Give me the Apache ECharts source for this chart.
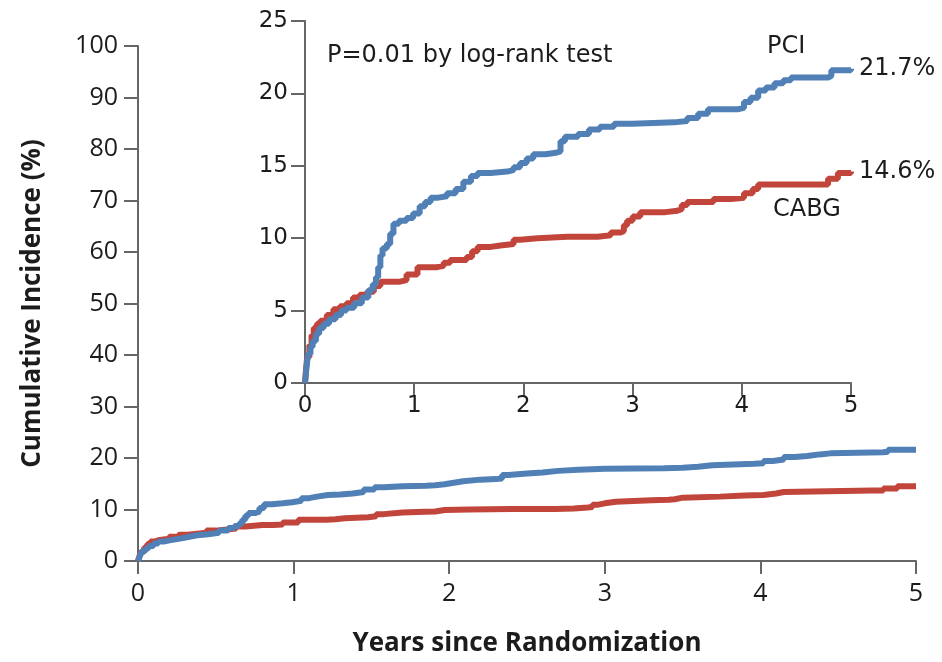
<!DOCTYPE html>
<html>
<head>
<meta charset="utf-8">
<script src="https://cdn.jsdelivr.net/npm/echarts@6/dist/echarts.min.js"></script>
<style>
  html, body { margin: 0; padding: 0; background: #fff; }
  #main { width: 942px; height: 662px; }
</style>
</head>
<body>
<div id="main"></div>
<script>
// years since randomization / cumulative incidence (%)
const pciYears = [0, 0.01, 0.02, 0.03, 0.05, 0.07, 0.1, 0.13, 0.17, 0.22, 0.28, 0.33, 0.38, 0.45, 0.52, 0.58, 0.62, 0.65, 0.67, 0.69, 0.71, 0.75, 0.78, 0.81, 0.86, 0.93, 0.99, 1.05, 1.1, 1.15, 1.22, 1.3, 1.38, 1.45, 1.52, 1.58, 1.7, 1.85, 1.91, 1.97, 2.03, 2.09, 2.2, 2.3, 2.34, 2.38, 2.5, 2.6, 2.7, 2.83, 3.0, 3.38, 3.5, 3.6, 3.69, 3.96, 4.02, 4.08, 4.15, 4.22, 4.3, 4.38, 4.45, 4.79, 4.82, 5.0];
const pciValues = [0, 0.8, 1.5, 2.0, 2.5, 2.9, 3.4, 3.8, 4.1, 4.4, 4.7, 5.0, 5.2, 5.5, 5.9, 6.4, 6.8, 7.3, 8.0, 8.8, 9.3, 9.6, 10.3, 11.0, 11.2, 11.4, 11.7, 12.2, 12.5, 12.8, 12.9, 13.1, 13.4, 13.9, 14.3, 14.5, 14.6, 14.7, 14.9, 15.2, 15.5, 15.8, 15.9, 16.0, 16.7, 17.0, 17.2, 17.5, 17.7, 17.9, 18.0, 18.1, 18.3, 18.6, 18.9, 19.0, 19.4, 19.7, 20.2, 20.4, 20.7, 20.9, 21.1, 21.2, 21.6, 21.7];

const cabgYears = [0, 0.01, 0.02, 0.04, 0.06, 0.08, 0.11, 0.14, 0.2, 0.26, 0.32, 0.38, 0.44, 0.5, 0.57, 0.63, 0.69, 0.8, 0.87, 0.93, 1.03, 1.1, 1.21, 1.27, 1.33, 1.48, 1.53, 1.58, 1.7, 1.79, 1.91, 1.97, 2.13, 2.4, 2.68, 2.8, 2.89, 2.92, 2.95, 3.0, 3.07, 3.3, 3.41, 3.45, 3.5, 3.74, 3.9, 4.02, 4.1, 4.15, 4.72, 4.79, 4.88, 5.0];
const cabgValues = [0, 1.0, 1.8, 2.6, 3.3, 3.8, 4.1, 4.3, 4.7, 5.1, 5.3, 5.5, 5.9, 6.1, 6.3, 6.7, 7.0, 7.0, 7.1, 7.5, 8.0, 8.0, 8.1, 8.3, 8.5, 8.7, 9.1, 9.4, 9.5, 9.6, 9.9, 10.0, 10.1, 10.1, 10.2, 10.4, 10.5, 10.9, 11.2, 11.5, 11.8, 11.9, 12.0, 12.3, 12.5, 12.7, 12.8, 13.1, 13.4, 13.7, 13.7, 14.1, 14.5, 14.6];

const xTicks = [0, 1, 2, 3, 4, 5];
const mainYMax = 100;
const insetYMax = 25;

const BLUE = '#5180b6';
const RED = '#c1453b';
const AXIS = '#666666';
const TEXT = '#1c1c1c';

const pairs = (xs, ys) => xs.map((x, i) => [x, ys[i]]);

const mainFont = '"Open Sans", "Noto Sans", sans-serif';
const insetFont = '"DejaVu Sans", "Noto Sans", sans-serif';

const chart = echarts.init(document.getElementById('main'), null, { renderer: 'canvas' });

function xAxisFor(gridIndex, labelFont, labelSize, labelMargin) {
  return {
    gridIndex,
    type: 'value',
    min: xTicks[0],
    max: xTicks[xTicks.length - 1],
    interval: 1,
    axisLine: { lineStyle: { color: AXIS, width: 2 } },
    axisTick: { show: true, length: 13, lineStyle: { color: AXIS, width: 2 } },
    axisLabel: { color: TEXT, fontFamily: labelFont, fontSize: labelSize, margin: labelMargin },
    splitLine: { show: false }
  };
}

function yAxisFor(gridIndex, max, interval, labelFont, labelSize, labelMargin) {
  return {
    gridIndex,
    type: 'value',
    min: 0,
    max,
    interval,
    axisLine: { show: true, lineStyle: { color: AXIS, width: 2 } },
    axisTick: { show: true, length: 14, lineStyle: { color: AXIS, width: 2 } },
    axisLabel: { color: TEXT, fontFamily: labelFont, fontSize: labelSize, margin: labelMargin },
    splitLine: { show: false }
  };
}

function curve(name, xs, ys, color, idx, withEnd) {
  return {
    name,
    type: 'line',
    step: 'end',
    xAxisIndex: idx,
    yAxisIndex: idx,
    data: pairs(xs, ys),
    showSymbol: false,
    lineStyle: { color, width: 6 },
    itemStyle: { color },
    z: 3,
    endLabel: withEnd ? {
      show: true,
      formatter: p => p.value[1].toFixed(1) + '%',
      color: TEXT,
      fontFamily: insetFont,
      fontSize: 24,
      distance: 8
    } : { show: false }
  };
}

chart.setOption({
  animation: false,
  backgroundColor: '#ffffff',
  grid: [
    { left: 138, top: 46, right: 26, bottom: 99 },
    { left: 305, top: 21, width: 546, height: 362 }
  ],
  xAxis: [
    Object.assign(xAxisFor(0, mainFont, 25, 20), {
      name: 'Years since Randomization',
      nameLocation: 'middle',
      nameGap: 70,
      nameTextStyle: { color: TEXT, fontFamily: mainFont, fontSize: 26, fontWeight: 'bold' }
    }),
    xAxisFor(1, insetFont, 23, 12)
  ],
  yAxis: [
    Object.assign(yAxisFor(0, mainYMax, 10, mainFont, 25, 20), {
      name: 'Cumulative Incidence (%)',
      nameLocation: 'middle',
      nameGap: 92,
      nameTextStyle: { color: TEXT, fontFamily: mainFont, fontSize: 26, fontWeight: 'bold' }
    }),
    yAxisFor(1, insetYMax, 5, insetFont, 23, 17)
  ],
  graphic: [
    { type: 'text', left: 327, top: 44, style: { text: 'P=0.01 by log-rank test', fill: TEXT, font: '24px "DejaVu Sans", sans-serif' } },
    { type: 'text', left: 767, top: 35, style: { text: 'PCI', fill: TEXT, font: '24px "DejaVu Sans", sans-serif' } },
    { type: 'text', left: 773, top: 198, style: { text: 'CABG', fill: TEXT, font: '24px "DejaVu Sans", sans-serif' } }
  ],
  series: [
    curve('CABG', cabgYears, cabgValues, RED, 0, false),
    curve('PCI', pciYears, pciValues, BLUE, 0, false),
    curve('CABG inset', cabgYears, cabgValues, RED, 1, true),
    curve('PCI inset', pciYears, pciValues, BLUE, 1, true)
  ]
});
</script>
</body>
</html>
